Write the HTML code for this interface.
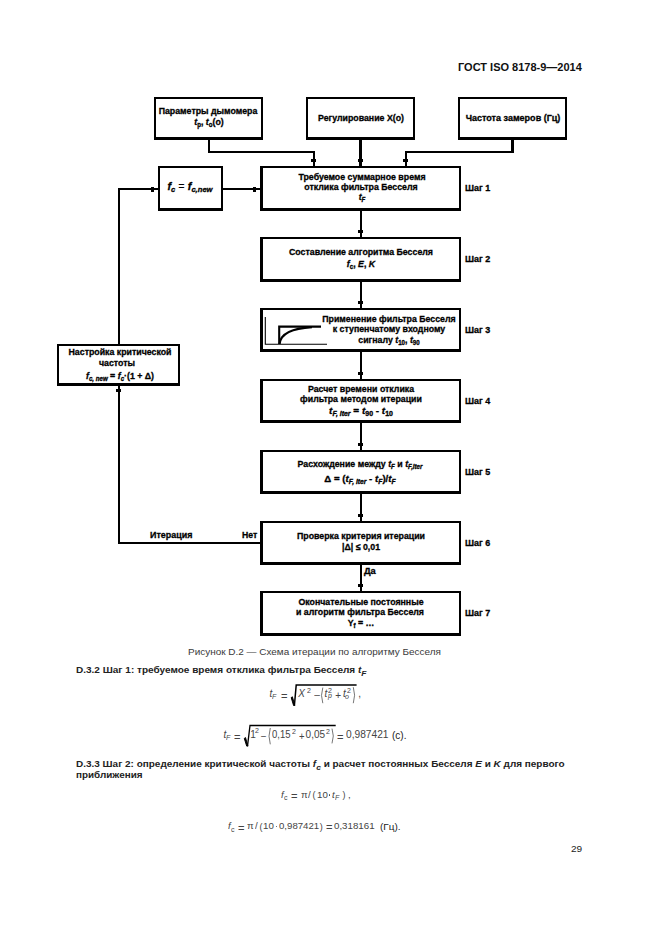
<!DOCTYPE html>
<html><head><meta charset="utf-8"><style>
html,body{margin:0;padding:0;background:#fff;}
body{width:661px;height:935px;position:relative;overflow:hidden;font-family:"Liberation Sans", sans-serif;}
.b{position:absolute;border-style:solid;border-color:#000;box-sizing:content-box;}
.r{position:absolute;}
.t{position:absolute;white-space:nowrap;}
.d{-webkit-text-stroke:0.3px #000;}
sub{font-size:70%;vertical-align:-0.25em;line-height:0;}
i{font-style:italic;}
sub.hs{font-size:85%;vertical-align:-0.42em;}
</style></head><body>
<div class="t" style="left:458px;top:61.69px;font-size:11px;line-height:11px;font-weight:700;color:#111;transform-origin:0 0;transform:scaleX(1.0);">ГОСТ ISO 8178-9—2014</div>
<div class="b" style="left:154px;top:97px;width:105px;height:38px;border-width:2px 2px 3px 2px"></div>
<div class="b" style="left:306px;top:97px;width:105px;height:38px;border-width:2px 2px 3px 2px"></div>
<div class="b" style="left:458px;top:97px;width:105px;height:38px;border-width:2px 2px 3px 2px"></div>
<div class="t d" style="left:208px;top:106.73px;font-size:9.3px;line-height:9.3px;font-weight:700;color:#000;transform:translateX(-50%) scaleX(0.945);">Параметры дымомера</div>
<div class="t d" style="left:208.5px;top:117.93px;font-size:9.3px;line-height:9.3px;font-weight:700;color:#000;transform:translateX(-50%) scaleX(0.945);"><i>t</i><sub>p</sub>, <i>t</i><sub>o</sub>(o)</div>
<div class="t d" style="left:361px;top:113.63px;font-size:9.3px;line-height:9.3px;font-weight:700;color:#000;transform:translateX(-50%) scaleX(0.945);">Регулирование X(o)</div>
<div class="t d" style="left:512.5px;top:113.63px;font-size:9.3px;line-height:9.3px;font-weight:700;color:#000;transform:translateX(-50%) scaleX(0.97);">Частота замеров (Гц)</div>
<div class="r" style="left:208px;top:140px;width:2px;height:13px;background:#000"></div>
<div class="r" style="left:208px;top:151px;width:107px;height:2px;background:#000"></div>
<div class="r" style="left:312.5px;top:151px;width:2.5px;height:15px;background:#000"></div>
<div class="r" style="left:311.2px;top:159px;width:5.0px;height:3px;background:#000"></div>
<div class="r" style="left:359px;top:140px;width:3px;height:26px;background:#000"></div>
<div class="r" style="left:358.0px;top:159px;width:5.0px;height:3px;background:#000"></div>
<div class="r" style="left:511px;top:140px;width:3px;height:13px;background:#000"></div>
<div class="r" style="left:405px;top:151px;width:109px;height:2px;background:#000"></div>
<div class="r" style="left:404.5px;top:151px;width:2.5px;height:15px;background:#000"></div>
<div class="r" style="left:403.2px;top:159px;width:5.0px;height:3px;background:#000"></div>
<div class="b" style="left:260px;top:166px;width:196px;height:40px;border-width:2px 2px 3px 3px"></div>
<div class="t d" style="left:465px;top:183.63px;font-size:9.3px;line-height:9.3px;font-weight:700;color:#000;transform-origin:0 0;transform:scaleX(0.965);">Шаг 1</div>
<div class="r" style="left:359.5px;top:211px;width:2.5px;height:26px;background:#000"></div>
<div class="r" style="left:358.2px;top:230px;width:5.0px;height:3px;background:#000"></div>
<div class="b" style="left:260px;top:237px;width:196px;height:40px;border-width:2px 2px 3px 3px"></div>
<div class="t d" style="left:465px;top:254.63px;font-size:9.3px;line-height:9.3px;font-weight:700;color:#000;transform-origin:0 0;transform:scaleX(0.965);">Шаг 2</div>
<div class="r" style="left:359.5px;top:282px;width:2.5px;height:26px;background:#000"></div>
<div class="r" style="left:358.2px;top:301px;width:5.0px;height:3px;background:#000"></div>
<div class="b" style="left:260px;top:308px;width:196px;height:39px;border-width:2px 2px 3px 3px"></div>
<div class="t d" style="left:465px;top:325.63px;font-size:9.3px;line-height:9.3px;font-weight:700;color:#000;transform-origin:0 0;transform:scaleX(0.965);">Шаг 3</div>
<div class="r" style="left:359.5px;top:352px;width:2.5px;height:27px;background:#000"></div>
<div class="r" style="left:358.2px;top:372px;width:5.0px;height:3px;background:#000"></div>
<div class="b" style="left:260px;top:379px;width:196px;height:39px;border-width:2px 2px 3px 3px"></div>
<div class="t d" style="left:465px;top:396.63px;font-size:9.3px;line-height:9.3px;font-weight:700;color:#000;transform-origin:0 0;transform:scaleX(0.965);">Шаг 4</div>
<div class="r" style="left:359.5px;top:423px;width:2.5px;height:27px;background:#000"></div>
<div class="r" style="left:358.2px;top:443px;width:5.0px;height:3px;background:#000"></div>
<div class="b" style="left:260px;top:450px;width:196px;height:39px;border-width:2px 2px 3px 3px"></div>
<div class="t d" style="left:465px;top:467.63px;font-size:9.3px;line-height:9.3px;font-weight:700;color:#000;transform-origin:0 0;transform:scaleX(0.965);">Шаг 5</div>
<div class="r" style="left:359.5px;top:494px;width:2.5px;height:27px;background:#000"></div>
<div class="r" style="left:358.2px;top:514px;width:5.0px;height:3px;background:#000"></div>
<div class="b" style="left:260px;top:521px;width:196px;height:39px;border-width:2px 2px 3px 3px"></div>
<div class="t d" style="left:465px;top:538.63px;font-size:9.3px;line-height:9.3px;font-weight:700;color:#000;transform-origin:0 0;transform:scaleX(0.965);">Шаг 6</div>
<div class="r" style="left:359.5px;top:565px;width:2.5px;height:26px;background:#000"></div>
<div class="r" style="left:358.2px;top:584px;width:5.0px;height:3px;background:#000"></div>
<div class="b" style="left:260px;top:591px;width:196px;height:40px;border-width:2px 2px 3px 3px"></div>
<div class="t d" style="left:465px;top:608.63px;font-size:9.3px;line-height:9.3px;font-weight:700;color:#000;transform-origin:0 0;transform:scaleX(0.965);">Шаг 7</div>
<div class="t d" style="left:361.5px;top:172.53px;font-size:9.3px;line-height:9.3px;font-weight:700;color:#000;transform:translateX(-50%) scaleX(0.945);">Требуемое суммарное время</div>
<div class="t d" style="left:361px;top:183.03px;font-size:9.3px;line-height:9.3px;font-weight:700;color:#000;transform:translateX(-50%) scaleX(0.945);">отклика фильтра Бесселя</div>
<div class="t d" style="left:361.5px;top:193.33px;font-size:9.3px;line-height:9.3px;font-weight:700;color:#000;transform:translateX(-50%) scaleX(0.945);"><i>t</i><sub><i>F</i></sub></div>
<div class="t d" style="left:360.5px;top:248.33px;font-size:9.3px;line-height:9.3px;font-weight:700;color:#000;transform:translateX(-50%) scaleX(0.945);">Составление алгоритма Бесселя</div>
<div class="t d" style="left:361px;top:259.63px;font-size:9.3px;line-height:9.3px;font-weight:700;color:#000;transform:translateX(-50%) scaleX(0.945);"><i>f</i><sub>c</sub>, <i>E</i>, <i>K</i></div>
<div class="t d" style="left:389px;top:314.53px;font-size:9.3px;line-height:9.3px;font-weight:700;color:#000;transform:translateX(-50%) scaleX(0.945);">Применение фильтра Бесселя</div>
<div class="t d" style="left:389px;top:325.03px;font-size:9.3px;line-height:9.3px;font-weight:700;color:#000;transform:translateX(-50%) scaleX(0.945);">к ступенчатому входному</div>
<div class="t d" style="left:388.5px;top:335.63px;font-size:9.3px;line-height:9.3px;font-weight:700;color:#000;transform:translateX(-50%) scaleX(0.945);">сигналу <i>t</i><sub>10</sub>, <i>t</i><sub>90</sub></div>
<div class="t d" style="left:360.7px;top:384.53px;font-size:9.3px;line-height:9.3px;font-weight:700;color:#000;transform:translateX(-50%) scaleX(0.945);">Расчет времени отклика</div>
<div class="t d" style="left:360.7px;top:395.03px;font-size:9.3px;line-height:9.3px;font-weight:700;color:#000;transform:translateX(-50%) scaleX(0.945);">фильтра методом итерации</div>
<div class="t d" style="left:360.8px;top:406.63px;font-size:9.3px;line-height:9.3px;font-weight:700;color:#000;transform:translateX(-50%) scaleX(1.07);"><i>t</i><sub><i>F, iter</i></sub> = <i>t</i><sub>90</sub> - <i>t</i><sub>10</sub></div>
<div class="t d" style="left:360.2px;top:460.03px;font-size:9.3px;line-height:9.3px;font-weight:700;color:#000;transform:translateX(-50%) scaleX(0.945);">Расхождение между <i>t</i><sub><i>F</i></sub> и <i>t</i><sub><i>F,iter</i></sub></div>
<div class="t d" style="left:360px;top:475.43px;font-size:9.3px;line-height:9.3px;font-weight:700;color:#000;transform:translateX(-50%) scaleX(1.04);">Δ = (<i>t</i><sub><i>F, iter</i></sub> - <i>t</i><sub><i>F</i></sub>)/<i>t</i><sub><i>F</i></sub></div>
<div class="t d" style="left:361px;top:531.63px;font-size:9.3px;line-height:9.3px;font-weight:700;color:#000;transform:translateX(-50%) scaleX(0.945);">Проверка критерия итерации</div>
<div class="t d" style="left:360.5px;top:542.83px;font-size:9.3px;line-height:9.3px;font-weight:700;color:#000;transform:translateX(-50%) scaleX(0.945);">|Δ| ≤ 0,01</div>
<div class="t d" style="left:360.7px;top:597.83px;font-size:9.3px;line-height:9.3px;font-weight:700;color:#000;transform:translateX(-50%) scaleX(0.945);">Окончательные постоянные</div>
<div class="t d" style="left:360.2px;top:608.03px;font-size:9.3px;line-height:9.3px;font-weight:700;color:#000;transform:translateX(-50%) scaleX(0.945);">и алгоритм фильтра Бесселя</div>
<div class="t d" style="left:360.5px;top:618.63px;font-size:9.3px;line-height:9.3px;font-weight:700;color:#000;transform:translateX(-50%) scaleX(0.945);">Y<sub>f</sub> = …</div>
<svg class="r" style="left:260px;top:308px" width="80" height="45" viewBox="260 308 80 45">
<path d="M265.3 317 V344.3 H327" fill="none" stroke="#000" stroke-width="1.1"/>
<path d="M279.2 344 V326.6 H321" fill="none" stroke="#000" stroke-width="2.1"/>
<path d="M279.6 344 C280.5 334 290 328.5 312 327.2" fill="none" stroke="#000" stroke-width="2.2"/>
</svg>
<div class="b" style="left:158px;top:166px;width:61px;height:40px;border-width:2px 2px 3px 2px"></div>
<div class="t d" style="left:190.2px;top:181.09px;font-size:11px;line-height:11px;font-weight:700;color:#000;transform:translateX(-50%) scaleX(0.99);"><i>f</i><sub><i>c</i></sub> <span style="font-weight:400;-webkit-text-stroke:0">=</span> <i>f</i><sub><i>c,new</i></sub></div>
<div class="r" style="left:223px;top:188px;width:37px;height:2px;background:#000"></div>
<div class="r" style="left:253px;top:186.5px;width:3px;height:5.0px;background:#000"></div>
<div class="r" style="left:117.5px;top:188px;width:40.5px;height:2px;background:#000"></div>
<div class="r" style="left:151px;top:186.5px;width:3px;height:5.0px;background:#000"></div>
<div class="r" style="left:117.5px;top:188px;width:2.5px;height:156px;background:#000"></div>
<div class="r" style="left:117.5px;top:385px;width:2.5px;height:159px;background:#000"></div>
<div class="r" style="left:116.2px;top:389px;width:5.0px;height:3px;background:#000"></div>
<div class="r" style="left:117.5px;top:541.5px;width:142.5px;height:2.0px;background:#000"></div>
<div class="b" style="left:57px;top:344px;width:119px;height:37px;border-width:2px 2px 3px 2px"></div>
<div class="t d" style="left:119.5px;top:348.33px;font-size:9.3px;line-height:9.3px;font-weight:700;color:#000;transform:translateX(-50%) scaleX(0.945);">Настройка критической</div>
<div class="t d" style="left:117px;top:358.73px;font-size:9.3px;line-height:9.3px;font-weight:700;color:#000;transform:translateX(-50%) scaleX(0.945);">частоты</div>
<div class="t d" style="left:119.5px;top:372.33px;font-size:9.3px;line-height:9.3px;font-weight:700;color:#000;transform:translateX(-50%) scaleX(0.945);"><i>f</i><sub><i>c, new</i></sub> = <i>f</i><sub><i>c</i></sub>·(1 + Δ)</div>
<div class="t d" style="left:150.2px;top:530.63px;font-size:9.3px;line-height:9.3px;font-weight:700;color:#000;transform-origin:0 0;transform:scaleX(0.96);">Итерация</div>
<div class="t d" style="left:242px;top:530.83px;font-size:9.3px;line-height:9.3px;font-weight:700;color:#000;transform-origin:0 0;transform:scaleX(0.93);">Нет</div>
<div class="t d" style="left:364px;top:566.83px;font-size:9.3px;line-height:9.3px;font-weight:700;color:#000;transform-origin:0 0;transform:scaleX(1.0);">Да</div>
<div class="t" style="left:188.2px;top:647.68px;font-size:9px;line-height:9px;font-weight:400;color:#3a3a3a;transform-origin:0 0;transform:scaleX(1.106);">Рисунок D.2 — Схема итерации по алгоритму Бесселя</div>
<div class="t" style="left:75.9px;top:666.08px;font-size:9px;line-height:9px;font-weight:700;color:#222;transform-origin:0 0;transform:scaleX(1.113);">D.3.2 Шаг 1: требуемое время отклика фильтра Бесселя <i>t<sub class="hs">F</sub></i></div>
<div class="t" style="left:269.6px;top:689.33px;font-size:10px;line-height:10px;font-weight:400;color:#444;transform-origin:0 0;transform:scaleX(1.0);"><i>t</i></div>
<div class="t" style="left:272.4px;top:694.10px;font-size:6.5px;line-height:6.5px;font-weight:400;color:#444;transform-origin:0 0;transform:scaleX(1.08);"><i>F</i></div>
<div class="t" style="left:281.0px;top:691.93px;font-size:10px;line-height:10px;font-weight:400;color:#444;transform-origin:0 0;transform:scaleX(1.12);">=</div>
<svg class="r" style="left:0;top:0" width="661" height="935"><path d="M291.2 697.6 L292.4 696.8000000000001 L294.8 705.5 L293.59999999999997 705.5 Z" fill="#000" stroke="#000" stroke-width="1"/><path d="M294.4 705.5 L296.2 685.1 H356.6" fill="none" stroke="#000" stroke-width="1.5"/></svg>
<div class="t" style="left:298.2px;top:689.33px;font-size:10px;line-height:10px;font-weight:400;color:#444;transform-origin:0 0;transform:scaleX(1.0);"><i>X</i></div>
<div class="t" style="left:306.8px;top:687.50px;font-size:6.5px;line-height:6.5px;font-weight:400;color:#444;transform-origin:0 0;transform:scaleX(1.08);">2</div>
<div class="t" style="left:313.6px;top:690.53px;font-size:10px;line-height:10px;font-weight:400;color:#444;transform-origin:0 0;transform:scaleX(1.15);">−</div>
<svg class="r" style="left:0;top:0" width="661" height="935"><path d="M322.8 687.6 Q320.2 695.4000000000001 322.8 703.2" fill="none" stroke="#555" stroke-width="0.8" /></svg>
<div class="t" style="left:324.4px;top:689.33px;font-size:10px;line-height:10px;font-weight:400;color:#444;transform-origin:0 0;transform:scaleX(1.0);"><i>t</i></div>
<div class="t" style="left:328.4px;top:687.70px;font-size:6.5px;line-height:6.5px;font-weight:400;color:#444;transform-origin:0 0;transform:scaleX(1.08);">2</div>
<div class="t" style="left:328.4px;top:692.90px;font-size:6.5px;line-height:6.5px;font-weight:400;color:#444;transform-origin:0 0;transform:scaleX(1.08);"><i>p</i></div>
<div class="t" style="left:335.3px;top:690.93px;font-size:10px;line-height:10px;font-weight:400;color:#444;transform-origin:0 0;transform:scaleX(1.0);">+</div>
<div class="t" style="left:343.1px;top:689.33px;font-size:10px;line-height:10px;font-weight:400;color:#444;transform-origin:0 0;transform:scaleX(1.0);"><i>t</i></div>
<div class="t" style="left:346.8px;top:687.70px;font-size:6.5px;line-height:6.5px;font-weight:400;color:#444;transform-origin:0 0;transform:scaleX(1.08);">2</div>
<div class="t" style="left:345.2px;top:694.30px;font-size:6.5px;line-height:6.5px;font-weight:400;color:#444;transform-origin:0 0;transform:scaleX(1.08);"><i>o</i></div>
<svg class="r" style="left:0;top:0" width="661" height="935"><path d="M353.3 687.2 Q355.90000000000003 695.2 353.3 703.2" fill="none" stroke="#555" stroke-width="0.8" /></svg>
<div class="t" style="left:358.2px;top:689.33px;font-size:10px;line-height:10px;font-weight:400;color:#444;transform-origin:0 0;transform:scaleX(1.0);">,</div>
<div class="t" style="left:223.4px;top:730.43px;font-size:10px;line-height:10px;font-weight:400;color:#444;transform-origin:0 0;transform:scaleX(1.0);"><i>t</i></div>
<div class="t" style="left:226.4px;top:734.80px;font-size:6.5px;line-height:6.5px;font-weight:400;color:#444;transform-origin:0 0;transform:scaleX(1.08);"><i>F</i></div>
<div class="t" style="left:234.4px;top:732.93px;font-size:10px;line-height:10px;font-weight:400;color:#444;transform-origin:0 0;transform:scaleX(1.12);">=</div>
<svg class="r" style="left:0;top:0" width="661" height="935"><path d="M244.3 738.4 L245.5 737.6 L247.9 746.1 L246.70000000000002 746.1 Z" fill="#000" stroke="#000" stroke-width="1"/><path d="M247.5 746.1 L250.0 725.5 H335.7" fill="none" stroke="#000" stroke-width="1.3"/></svg>
<div class="t" style="left:250.2px;top:730.43px;font-size:10px;line-height:10px;font-weight:400;color:#444;transform-origin:0 0;transform:scaleX(1.0);">1</div>
<div class="t" style="left:254.7px;top:727.80px;font-size:6.5px;line-height:6.5px;font-weight:400;color:#444;transform-origin:0 0;transform:scaleX(1.08);">2</div>
<div class="t" style="left:260.7px;top:731.53px;font-size:10px;line-height:10px;font-weight:400;color:#444;transform-origin:0 0;transform:scaleX(1.0);">−</div>
<svg class="r" style="left:0;top:0" width="661" height="935"><path d="M270.3 728.0 Q267.7 736.15 270.3 744.3" fill="none" stroke="#555" stroke-width="0.8" /></svg>
<div class="t" style="left:272.2px;top:730.43px;font-size:10px;line-height:10px;font-weight:400;color:#444;transform-origin:0 0;transform:scaleX(0.95);">0,15</div>
<div class="t" style="left:291.9px;top:728.60px;font-size:6.5px;line-height:6.5px;font-weight:400;color:#444;transform-origin:0 0;transform:scaleX(1.08);">2</div>
<div class="t" style="left:299.2px;top:731.74px;font-size:10px;line-height:10px;font-weight:400;color:#444;transform-origin:0 0;transform:scaleX(0.95);">+</div>
<div class="t" style="left:305.6px;top:730.43px;font-size:10px;line-height:10px;font-weight:400;color:#444;transform-origin:0 0;transform:scaleX(1.0);">0,05</div>
<div class="t" style="left:325.8px;top:728.60px;font-size:6.5px;line-height:6.5px;font-weight:400;color:#444;transform-origin:0 0;transform:scaleX(1.08);">2</div>
<svg class="r" style="left:0;top:0" width="661" height="935"><path d="M332.0 728.6 Q334.6 736.0 332.0 743.4" fill="none" stroke="#555" stroke-width="0.8" /></svg>
<div class="t" style="left:337.1px;top:733.13px;font-size:10px;line-height:10px;font-weight:400;color:#444;transform-origin:0 0;transform:scaleX(1.12);">=</div>
<div class="t" style="left:346.1px;top:730.43px;font-size:10px;line-height:10px;font-weight:400;color:#444;transform-origin:0 0;transform:scaleX(1.02);">0,987421</div>
<div class="t" style="left:392.0px;top:730.93px;font-size:10px;line-height:10px;font-weight:400;color:#222;transform-origin:0 0;transform:scaleX(1.0);">(с).</div>
<div class="t" style="left:281.0px;top:790.58px;font-size:9px;line-height:9px;font-weight:400;color:#444;transform-origin:0 0;transform:scaleX(1.08);"><i>f</i></div>
<div class="t" style="left:283.9px;top:795.10px;font-size:6.5px;line-height:6.5px;font-weight:400;color:#444;transform-origin:0 0;transform:scaleX(1.08);">c</div>
<div class="t" style="left:290.9px;top:791.63px;font-size:10px;line-height:10px;font-weight:400;color:#444;transform-origin:0 0;transform:scaleX(1.12);">=</div>
<div class="t" style="left:300.5px;top:790.58px;font-size:9px;line-height:9px;font-weight:400;color:#444;transform-origin:0 0;transform:scaleX(1.08);">π</div>
<div class="t" style="left:307.6px;top:790.58px;font-size:9px;line-height:9px;font-weight:400;color:#444;transform-origin:0 0;transform:scaleX(1.08);">/</div>
<div class="t" style="left:312.5px;top:791.18px;font-size:9px;line-height:9px;font-weight:400;color:#444;transform-origin:0 0;transform:scaleX(1.0);">(</div>
<div class="t" style="left:317.2px;top:790.58px;font-size:9px;line-height:9px;font-weight:400;color:#444;transform-origin:0 0;transform:scaleX(1.08);">10</div>
<div class="r" style="left:328.6px;top:794.1999999999999px;width:1.4px;height:1.4px;border-radius:50%;background:#444"></div>
<div class="t" style="left:332.0px;top:790.58px;font-size:9px;line-height:9px;font-weight:400;color:#444;transform-origin:0 0;transform:scaleX(1.08);"><i>t</i></div>
<div class="t" style="left:334.6px;top:795.10px;font-size:6.5px;line-height:6.5px;font-weight:400;color:#444;transform-origin:0 0;transform:scaleX(1.08);"><i>F</i></div>
<div class="t" style="left:342.4px;top:791.18px;font-size:9px;line-height:9px;font-weight:400;color:#444;transform-origin:0 0;transform:scaleX(1.0);">)</div>
<div class="t" style="left:348.0px;top:791.38px;font-size:9px;line-height:9px;font-weight:400;color:#444;transform-origin:0 0;transform:scaleX(1.08);">,</div>
<div class="t" style="left:228.0px;top:822.18px;font-size:9px;line-height:9px;font-weight:400;color:#444;transform-origin:0 0;transform:scaleX(1.08);"><i>f</i></div>
<div class="t" style="left:230.6px;top:826.70px;font-size:6.5px;line-height:6.5px;font-weight:400;color:#444;transform-origin:0 0;transform:scaleX(1.08);">c</div>
<div class="t" style="left:237.8px;top:824.13px;font-size:10px;line-height:10px;font-weight:400;color:#444;transform-origin:0 0;transform:scaleX(1.12);">=</div>
<div class="t" style="left:247.4px;top:822.18px;font-size:9px;line-height:9px;font-weight:400;color:#444;transform-origin:0 0;transform:scaleX(1.08);">π</div>
<div class="t" style="left:254.6px;top:822.18px;font-size:9px;line-height:9px;font-weight:400;color:#444;transform-origin:0 0;transform:scaleX(1.08);">/</div>
<div class="t" style="left:259.4px;top:822.98px;font-size:9px;line-height:9px;font-weight:400;color:#444;transform-origin:0 0;transform:scaleX(1.0);">(</div>
<div class="t" style="left:262.9px;top:822.18px;font-size:9px;line-height:9px;font-weight:400;color:#444;transform-origin:0 0;transform:scaleX(1.08);">10</div>
<div class="r" style="left:275.7px;top:825.9px;width:1.4px;height:1.4px;border-radius:50%;background:#444"></div>
<div class="t" style="left:279.0px;top:822.18px;font-size:9px;line-height:9px;font-weight:400;color:#444;transform-origin:0 0;transform:scaleX(1.07);">0,987421</div>
<div class="t" style="left:319.7px;top:822.98px;font-size:9px;line-height:9px;font-weight:400;color:#444;transform-origin:0 0;transform:scaleX(1.0);">)</div>
<div class="t" style="left:326.1px;top:823.43px;font-size:10px;line-height:10px;font-weight:400;color:#444;transform-origin:0 0;transform:scaleX(1.12);">=</div>
<div class="t" style="left:334.3px;top:822.18px;font-size:9px;line-height:9px;font-weight:400;color:#444;transform-origin:0 0;transform:scaleX(1.08);">0,318161</div>
<div class="t" style="left:380.2px;top:822.26px;font-size:9.5px;line-height:9.5px;font-weight:400;color:#222;transform-origin:0 0;transform:scaleX(1.05);">(Гц).</div>
<div class="t" style="left:75.9px;top:760.28px;font-size:9px;line-height:9px;font-weight:700;color:#222;transform-origin:0 0;transform:scaleX(1.107);">D.3.3 Шаг 2: определение критической частоты <i>f<sub class="hs">c</sub></i> и расчет постоянных Бесселя <i>E</i> и <i>K</i> для первого</div>
<div class="t" style="left:75.9px;top:771.38px;font-size:9px;line-height:9px;font-weight:700;color:#222;transform-origin:0 0;transform:scaleX(1.1);">приближения</div>
<div class="t" style="left:570.5px;top:844.83px;font-size:9.3px;line-height:9.3px;font-weight:400;color:#222;transform-origin:0 0;transform:scaleX(1.08);">29</div>
</body></html>
